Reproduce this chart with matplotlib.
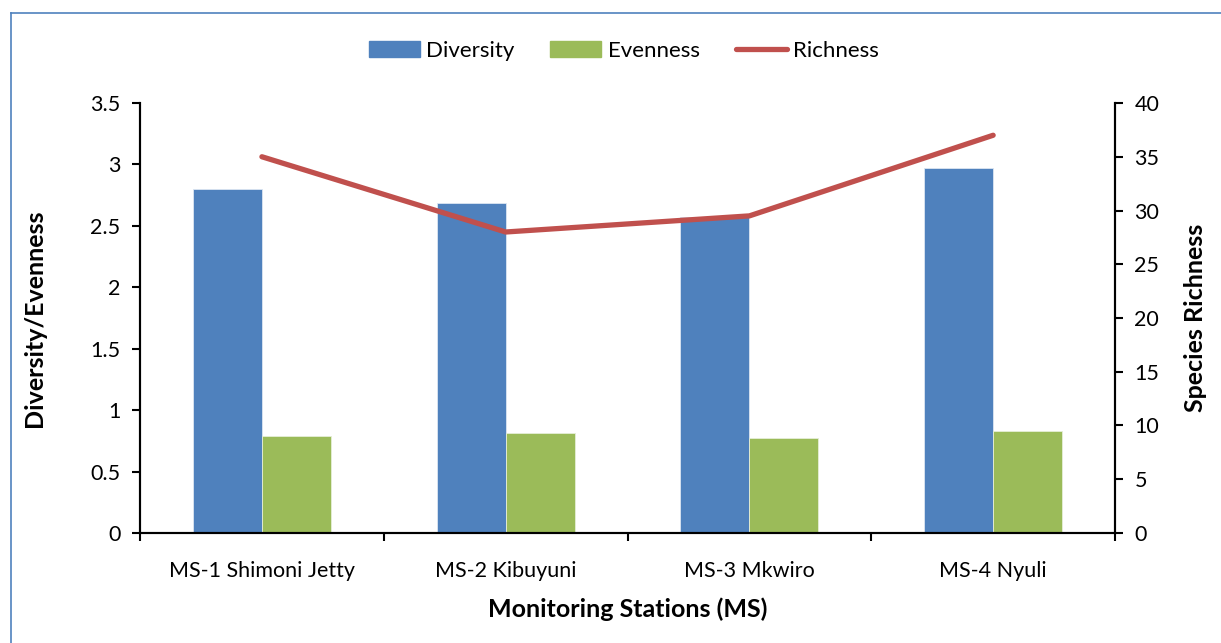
import matplotlib
matplotlib.use("Agg")
import matplotlib.pyplot as plt
from matplotlib.lines import Line2D
from matplotlib.patches import Patch
import numpy as np

stations = ["MS-1 Shimoni Jetty", "MS-2 Kibuyuni", "MS-3 Mkwiro", "MS-4 Nyuli"]
diversity = [2.80, 2.69, 2.57, 2.97]
evenness = [0.79, 0.81, 0.77, 0.83]
richness = [35, 28, 29.5, 37]

left_ticks = [0, 0.5, 1, 1.5, 2, 2.5, 3, 3.5]
left_tick_labels = ["0", "0.5", "1", "1.5", "2", "2.5", "3", "3.5"]
right_ticks = [0, 5, 10, 15, 20, 25, 30, 35, 40]

BLUE = "#4F81BD"
GREEN = "#9BBB59"
RED = "#C0504D"

plt.rcParams["font.family"] = ["Lato", "DejaVu Sans"]

fig = plt.figure(figsize=(12.21, 6.43), dpi=100)
ax = fig.add_axes([0.1147, 0.1711, 0.7985, 0.6687])
ax2 = ax.twinx()

x = np.arange(len(stations))
w = 0.283
ax.bar(x - w / 2, diversity, width=w, color=BLUE, edgecolor="#dce6f2", linewidth=0.6, zorder=2)
ax.bar(x + w / 2, evenness, width=w, color=GREEN, edgecolor="#e6eed8", linewidth=0.6, zorder=2)
ax2.plot(x, richness, color=RED, linewidth=3.8, solid_capstyle="round", zorder=3)

ax.set_xlim(-0.5, len(stations) - 0.5)
ax.set_ylim(0, 3.5)
ax2.set_ylim(0, 40)

ax.set_yticks(left_ticks)
ax.set_yticklabels(left_tick_labels)
ax2.set_yticks(right_ticks)

ax.set_xticks(x)
ax.set_xticklabels(stations)
ax.set_xticks(np.arange(len(stations) + 1) - 0.5, minor=True)
ax.tick_params(axis="x", which="major", length=0, pad=20, labelsize=15.5)
ax.tick_params(axis="x", which="minor", length=6, width=1.5, direction="out")
ax.tick_params(axis="y", length=6, width=1.5, direction="out", labelsize=15.5, pad=8)
ax2.tick_params(axis="y", length=6, width=1.5, direction="out", labelsize=15.5, pad=8)

for a in (ax, ax2):
    a.spines["top"].set_visible(False)
    for s in ("left", "right", "bottom"):
        a.spines[s].set_linewidth(1.5)
        a.spines[s].set_color("black")

ax.set_xlabel("Monitoring Stations (MS)", fontsize=18, fontweight="bold", labelpad=12)
ax.set_ylabel("Diversity/Evenness", fontsize=18, fontweight="bold", labelpad=32)
ax2.set_ylabel("Species Richness", fontsize=18, fontweight="bold", labelpad=18)

handles = [
    Patch(facecolor=BLUE, edgecolor=BLUE),
    Patch(facecolor=GREEN, edgecolor=GREEN),
    Line2D([0], [0], color=RED, linewidth=3.8, solid_capstyle="round"),
]
fig.legend(handles, ["Diversity", "Evenness", "Richness"], loc="center",
           bbox_to_anchor=(0.511, 0.921), ncol=3, frameon=False, fontsize=16,
           handlelength=2.3, handleheight=0.75, handletextpad=0.3, columnspacing=1.6)

# thin blue frame along the top and left of the figure
fig.add_artist(Line2D([11 / 1221, 1], [1 - 13 / 643, 1 - 13 / 643], transform=fig.transFigure,
                      color=BLUE, linewidth=1.2))
fig.add_artist(Line2D([11 / 1221, 11 / 1221], [0, 1 - 13 / 643], transform=fig.transFigure,
                      color=BLUE, linewidth=1.2))

fig.savefig("out.png", dpi=100)
